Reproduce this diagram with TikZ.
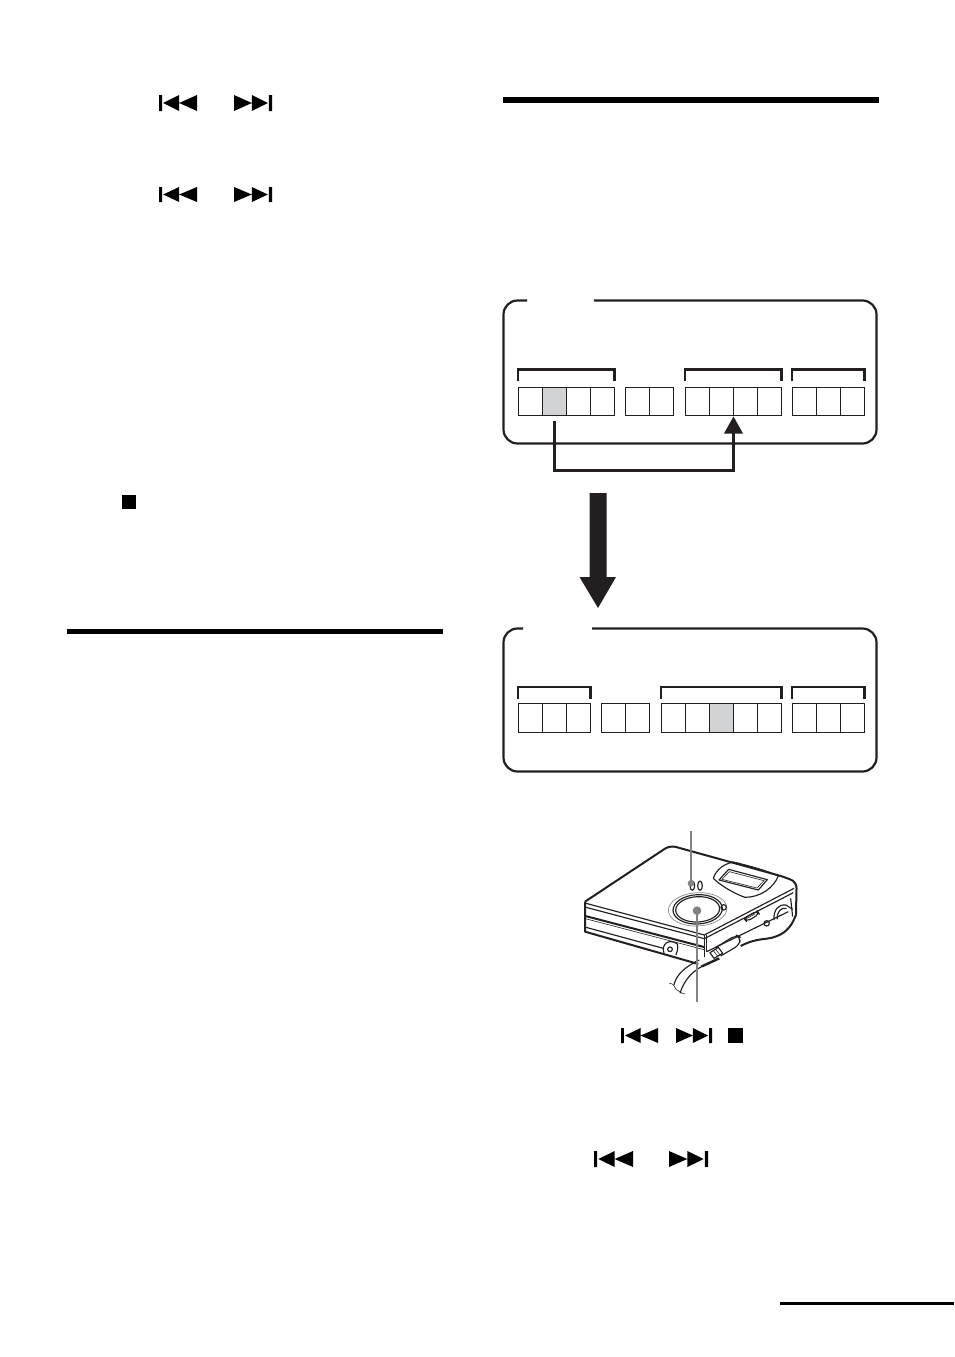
\documentclass[tikz,border=0pt]{standalone}
\usepackage{tikz}
\definecolor{leadgrey}{HTML}{808285}
\definecolor{cellgrey}{HTML}{D1D3D4}
\definecolor{inkblack}{HTML}{231F20}
\tikzset{
  cellbox/.style={draw=inkblack,line width=0.9pt,minimum width=24pt,minimum height=28.5pt,inner sep=0pt,outer sep=0pt,anchor=north west},
  panel/.style={draw=inkblack,line width=2.2pt,rounded corners=14pt},
  brack/.style={draw=inkblack,line width=2.4pt},
  rulebar/.style={fill=black},
  leader/.style={draw=leadgrey,line width=2.8pt},
  devline/.style={draw=inkblack,line width=1.15pt,line join=round},
  devthick/.style={draw=inkblack,line width=2pt,line join=round},
  devthin/.style={draw=inkblack,line width=0.6pt},
  devgrey/.style={draw=black!45,line width=0.7pt}
}
\newcommand{\skipsym}[5]{%
  \begin{scope}[shift={(#1,#3)},xscale={#2-(#1)},yscale={(#4-(#3))}]
    \fill[black] #5 ;
  \end{scope}}
\newcommand{\backshape}{(0,0) rectangle (0.08,1) (0.11,0.5) -- (0.53,0) -- (0.53,1) -- cycle (0.53,0.5) -- (1,0) -- (1,1) -- cycle}
\newcommand{\nextshape}{(1,0) rectangle (0.92,1) (0.89,0.5) -- (0.47,0) -- (0.47,1) -- cycle (0.47,0.5) -- (0,0) -- (0,1) -- cycle}
\begin{document}
\begin{tikzpicture}[x=1pt,y=-1pt]
\useasboundingbox (0,0) rectangle (954,1357);
% rules
\fill[rulebar] (503,97) rectangle (879,102.5);
\fill[rulebar] (67,628.5) rectangle (443,633.5);
\fill[rulebar] (780,1301.5) rectangle (954,1304.5);
% skip symbols
\skipsym{159}{197}{95}{111}{\backshape}
\skipsym{234}{272}{95}{111}{\nextshape}
\skipsym{159}{197}{187}{202}{\backshape}
\skipsym{234}{272}{187}{202}{\nextshape}
\fill[black] (122,495) rectangle (136,509);
\skipsym{621}{658}{1028}{1043}{\backshape}
\skipsym{676}{712}{1028}{1043}{\nextshape}
\fill[black] (728,1028) rectangle (743,1043);
\skipsym{594}{633}{1151}{1167}{\backshape}
\skipsym{669}{708}{1151}{1167}{\nextshape}
% top panel
\draw[panel] (527,300.5) -- (503.5,300.5) -- (503.5,443.5) -- (876.5,443.5) -- (876.5,300.5) -- (594,300.5);
\draw[brack] (518,381) -- (518,369.5) -- (614.5,369.5) -- (614.5,381);
\draw[brack] (685,381) -- (685,369.5) -- (781.5,369.5) -- (781.5,381);
\draw[brack] (792,381) -- (792,369.5) -- (864.5,369.5) -- (864.5,381);
\foreach \n/\x in {a1/518.5,a2/542.5,a3/566.5,a4/590.5,a5/625.5,a6/649.5,a7/685.5,a8/709.5,a9/733.5,a10/757.5,a11/792.5,a12/816.5,a13/840.5}
  \node[cellbox] (\n) at (\x,387) {};
\node[cellbox,fill=cellgrey] at (a2.north west) {};
\draw[inkblack,line width=1.9pt] (a13.north west) -- (a13.south west) (a13.north east) -- (a13.south east);
% connector
\coordinate (loopstart) at ([yshift=-5pt]a2.south);
\coordinate (looptip) at (a9.south west);
\draw[inkblack,line width=2.8pt,line join=miter] (loopstart) -- ++(0,50) -| ([yshift=-15pt]looptip);
\fill[inkblack] ([yshift=-1pt]looptip) -- ([shift={(-9.5,18)}]looptip) -- ([shift={(9.5,18)}]looptip) -- cycle;
% big arrow
\coordinate (bigtop) at (598,493);
\coordinate (bigtip) at (598,608);
\fill[inkblack] (bigtop) ++(-8.5,0) -- ++(17,0) -- ++(0,84) -- ++(9.5,0) -- (bigtip) -- (579.5,577) -- (589.5,577) -- cycle;
% bottom panel
\draw[panel] (523,628.5) -- (503.5,628.5) -- (503.5,771.5) -- (876.5,771.5) -- (876.5,628.5) -- (592,628.5);
\draw[brack] (518,698.5) -- (518,687) -- (590.5,687) -- (590.5,698.5);
\draw[brack] (661,698.5) -- (661,687) -- (781.5,687) -- (781.5,698.5);
\draw[brack] (792,698.5) -- (792,687) -- (864.5,687) -- (864.5,698.5);
\foreach \n/\x in {c1/518.5,c2/542.5,c3/566.5,c4/601.5,c5/625.5,c6/661.5,c7/685.5,c8/709.5,c9/733.5,c10/757.5,c11/792.5,c12/816.5,c13/840.5}
  \node[cellbox] (\n) at (\x,703.5) {};
\node[cellbox,fill=cellgrey] at (c8.north west) {};
\draw[inkblack,line width=1.9pt] (c13.north west) -- (c13.south west) (c13.north east) -- (c13.south east);
% device
\begin{scope}[shift={(570,820)},x=0.3333pt,y=-0.3333pt]
  % body top and corner outline
  \draw[devthick,rounded corners=6pt] (45,245) -- (300,76) -- (640,170) -- (680,186) -- (678,285);
  \draw[devthick] (45,245) -- (45,335) -- (385,432);
  \draw[devline] (48,250) -- (403,345) -- (672,205);
  \draw[devline] (48,262) -- (403,356) -- (670,218);
  \draw[devthick] (46,288) -- (402,381);
  \draw[devthin] (46,296) -- (402,389);
  \draw[devline] (48,322) -- (280,385);
  \draw[devline] (403,345) -- (403,410);
  \draw[devline] (410,345) -- (410,395);
  % right side
  \draw[devline] (410,395) -- (655,275);
  \draw[devthick,rounded corners=8pt] (678,285) -- (660,325) -- (620,352) -- (545,362) -- (512,378);
  % display
  \draw[devline] (430,175) .. controls (438,150) and (460,132) .. (490,126) .. controls (540,138) and (590,152) .. (625,168) .. controls (610,205) and (570,232) .. (525,232) .. controls (490,220) and (450,195) .. (430,175);
  \draw[devline] (447,180) -- (476,148) -- (592,179) -- (565,210) -- cycle;
  \draw[devthin] (456,178) -- (478,155) -- (582,182) -- (561,204) -- cycle;
  % wheel
  \draw[devgrey,rotate around={3:(383,268)}] (383,268) ellipse [x radius=88,y radius=50];
  \draw[devline,rotate around={3:(383,268)}] (383,268) ellipse [x radius=74,y radius=44];
  \draw[devline,rotate around={3:(383,268)}] (383,268) ellipse [x radius=66,y radius=38];
  \draw[devline] (461,262) circle [radius=8];
  % small buttons
  \draw[devline] (367,197) ellipse [x radius=7,y radius=14];
  \draw[devline] (390,197) ellipse [x radius=7,y radius=14];
  % slider, jack, knob
  \draw[devline,rounded corners=4pt] (522,295) -- (562,272) -- (568,282) -- (530,305) -- cycle;
  \draw[devthin] (532,295) -- (556,281);
  \draw[devline] (590,310) circle [radius=8];
  \draw[devline] (612,300) .. controls (610,270) and (625,252) .. (648,255) -- (668,268);
  \draw[devline] (622,298) .. controls (620,275) and (632,262) .. (650,265);
  \draw[devline] (662,235) -- (668,290);
  % front jack
  \draw[devline] (300,388) circle [radius=7];
  \draw[devline] (282,400) .. controls (272,370) and (300,355) .. (322,372) .. controls (325,385) and (322,395) .. (318,405);
  % plug
  \draw[devline,rounded corners=5pt] (438,382) -- (498,345) -- (512,352) -- (508,375) -- (452,408);
  \draw[devline] (420,398) -- (445,382) -- (458,400) -- (432,415) -- cycle;
  \draw[devthin] (430,392) -- (444,410);
  \draw[devthin] (437,388) -- (451,406);
  \fill[inkblack] (390,438) -- (445,412) -- (450,418) -- (398,442) -- cycle;
  % cable
  \draw[devline] (388,420) .. controls (345,440) and (318,465) .. (312,495);
  \draw[devline] (395,440) .. controls (365,455) and (340,485) .. (330,520);
  \draw[devthin] (298,490) .. controls (312,490) and (312,500) .. (318,508) .. controls (328,512) and (335,522) .. (345,522);
  % leaders
  \coordinate (uppertop) at (363,33);
  \coordinate (upperdot) at (363,190);
  \coordinate (lowerdot) at (381,272);
  \coordinate (lowerend) at (381,545);
  \draw[leader] (uppertop) -- (upperdot);
  \draw[leader] (lowerdot) -- (lowerend);
  \fill[leadgrey] (upperdot) circle [radius=10];
  \fill[leadgrey] (lowerdot) circle [radius=13];
\end{scope}
\end{tikzpicture}
\end{document}
